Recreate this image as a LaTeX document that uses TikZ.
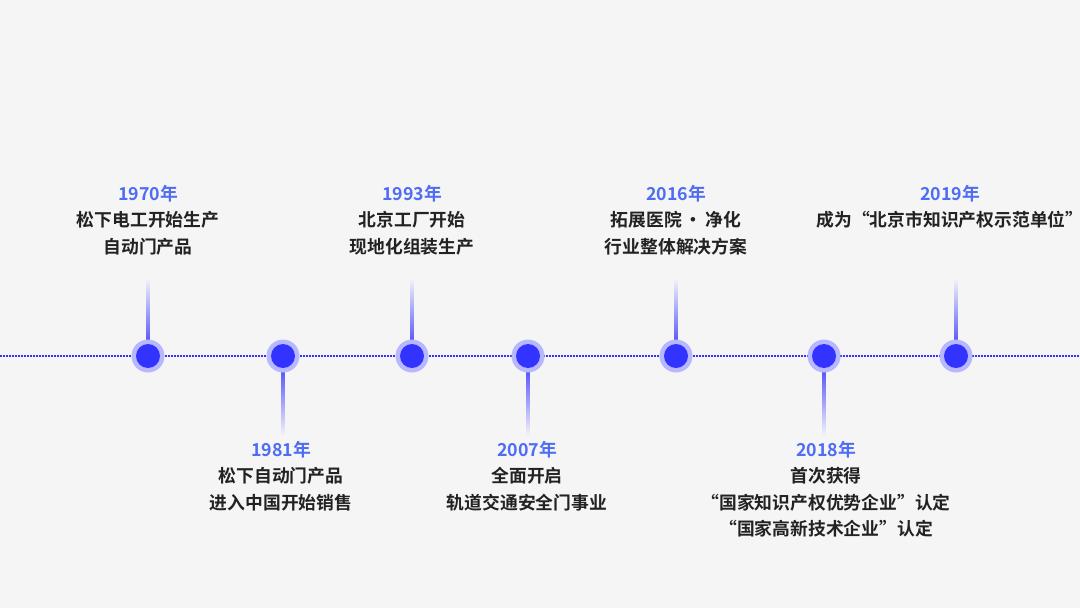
\documentclass[tikz,border=0pt]{standalone}
\usepackage{fontspec}
\setmainfont{Noto Sans CJK SC}[BoldFont={Noto Sans CJK SC Bold}]
\definecolor{bg}{HTML}{F5F5F6}
\definecolor{dotc}{HTML}{3333FF}
\definecolor{yr}{HTML}{4F6CF5}
\definecolor{txt}{HTML}{222222}
\begin{document}
\begin{tikzpicture}[x=1pt,y=-1pt,
  dot/.style={circle,fill=dotc,minimum size=24pt,inner sep=0pt},
  halo/.style={circle,fill=dotc!35,minimum size=33pt,inner sep=0pt},
  lab/.style={align=center,font=\bfseries\fontsize{17.8}{26.5}\selectfont,text=txt,inner sep=0pt}]
\fill[bg] (0,0) rectangle (1080,608);
\useasboundingbox (0,0) rectangle (1080,608);
\draw[dotc,line width=1.5pt,dash pattern=on 1.5pt off 1.5pt] (0,356) -- (1080,356);
\foreach \x/\n/\d in {148/a/u,283/b/d,412/c/u,528/d/d,676/e/u,824/f/d,956/g/u}{
  \if\d u
   \shade[top color=bg,bottom color=dotc] (\x-1.3,278) rectangle (\x+1.3,356);
  \else
   \shade[top color=dotc,bottom color=bg] (\x-1.3,356) rectangle (\x+1.3,436);
  \fi
  \node[halo] (h\n) at (\x,356) {};
  \node[dot] (\n) at (\x,356) {};
}
\node[lab,anchor=north] (ta) at (148,185) {\textcolor{yr}{1970年}\\松下电工开始生产\\自动门产品};
\node[lab,anchor=north] (tc) at (412,185) {\textcolor{yr}{1993年}\\北京工厂开始\\现地化组装生产};
\node[lab,anchor=north] (te) at (676,185) {\textcolor{yr}{2016年}\\拓展医院\,·\,净化\\行业整体解决方案};
\node[lab,anchor=north] (tg) at (950,185) {\textcolor{yr}{2019年}\\成为“北京市知识产权示范单位”};
\node[lab,anchor=north] (tb) at (281,441) {\textcolor{yr}{1981年}\\松下自动门产品\\进入中国开始销售};
\node[lab,anchor=north] (td) at (527,441) {\textcolor{yr}{2007年}\\全面开启\\轨道交通安全门事业};
\node[lab,anchor=north] (tf) at (826,441) {\textcolor{yr}{2018年}\\首次获得\\“国家知识产权优势企业”认定\\“国家高新技术企业”认定};
\end{tikzpicture}
\end{document}
